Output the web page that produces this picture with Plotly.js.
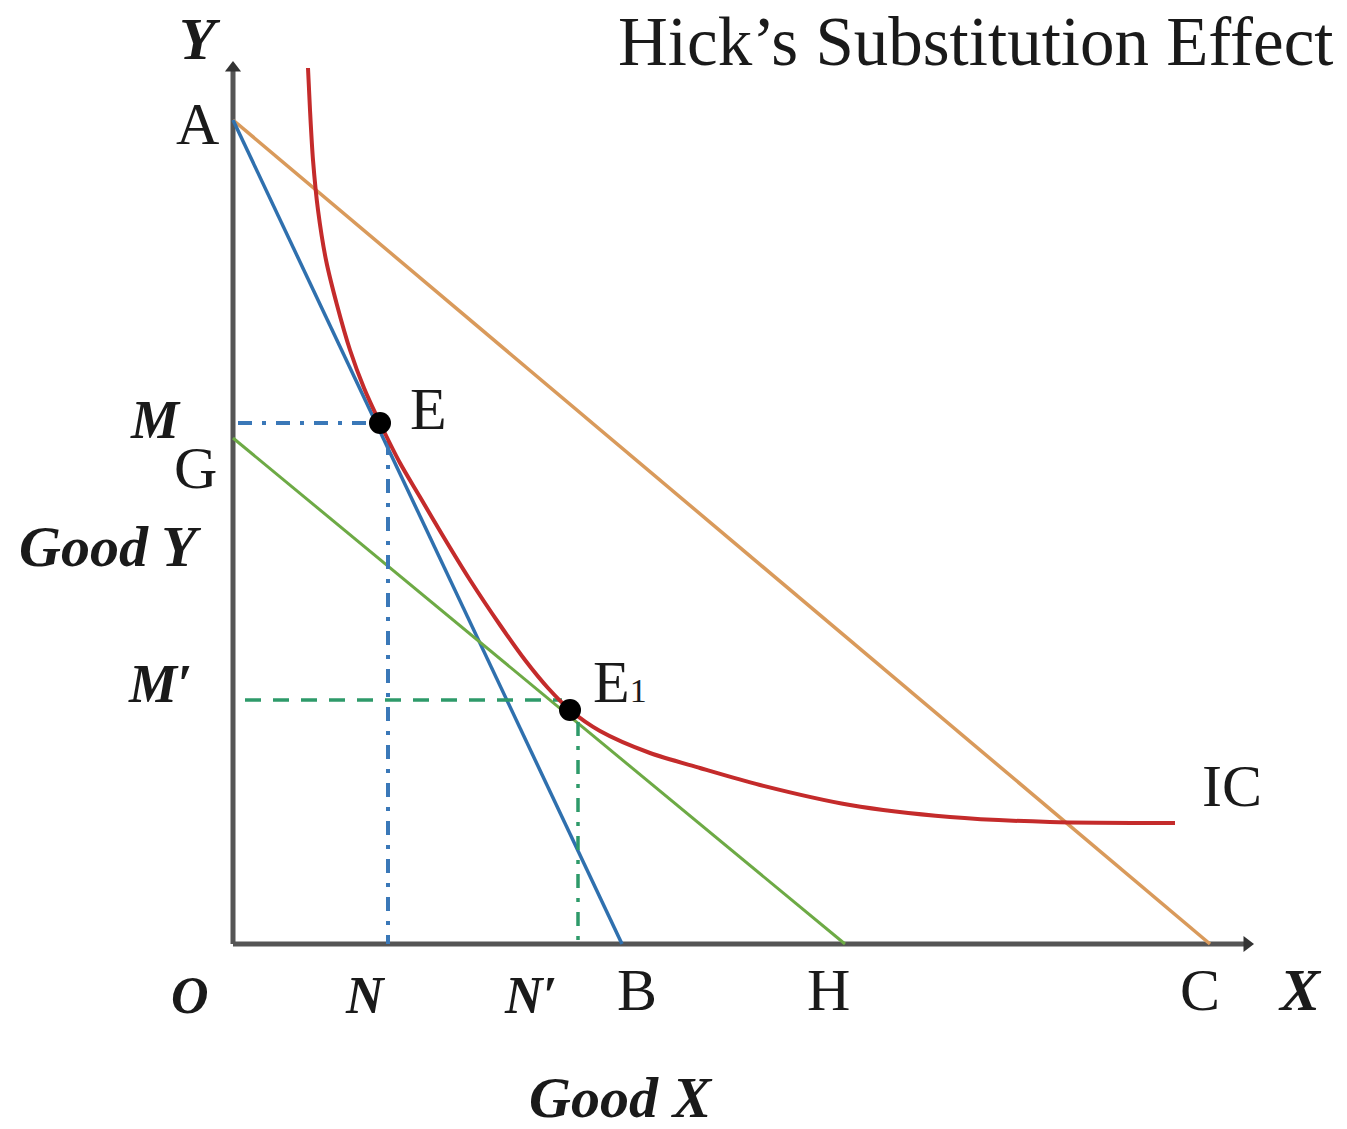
<!DOCTYPE html>
<html>
<head>
<meta charset="utf-8">
<script src="https://cdn.plot.ly/plotly-3.0.1.min.js"></script>
<style>html,body{margin:0;padding:0;background:#fff;}#chart{width:1347px;height:1129px;}</style>
</head>
<body>
<div id="chart"></div>
<script>
// ---- Data (units: Good X, Good Y) ----
const icX = [0.75,0.77,0.80,0.85,0.93,1.04,1.17,1.31,1.47,1.67,1.87,2.10,2.37,2.67,2.92,3.15,3.37,3.67,4.17,4.67,5.27,6.17,7.17,8.17,9.42];
const icY = [8.76,8.34,7.84,7.34,6.84,6.39,5.94,5.56,5.21,4.81,4.47,4.08,3.64,3.19,2.84,2.56,2.34,2.13,1.91,1.76,1.59,1.39,1.27,1.22,1.21];

const pointA = 8.24;   // Y intercept of both original budget lines
const pointB = 3.89;   // X intercept of line AB
const pointC = 9.77;   // X intercept of line AC
const pointG = 5.06;   // Y intercept of compensated line GH
const pointH = 6.12;   // X intercept of line GH

const eqE  = [1.47, 5.21];  // E
const eqE1 = [3.37, 2.34];  // E1
const levelM  = 5.21, levelMp = 2.44;   // M, M'
const posN    = 1.55, posNp   = 3.45;   // N, N'

const yAxisTop = 8.76, xAxisEnd = 10.14;

const lineWidthAxis = 5;

const traces = [
  // axes
  {x:[0,0], y:[0,yAxisTop], mode:'lines', line:{color:'#555555', width:lineWidthAxis}, hoverinfo:'skip'},
  {x:[0,xAxisEnd], y:[0,0], mode:'lines', line:{color:'#555555', width:lineWidthAxis}, hoverinfo:'skip'},
  {x:[0], y:[yAxisTop], mode:'markers', marker:{symbol:'triangle-up', size:14, color:'#333333'}, hoverinfo:'skip'},
  {x:[xAxisEnd], y:[0], mode:'markers', marker:{symbol:'triangle-right', size:14, color:'#333333'}, hoverinfo:'skip'},
  // budget lines
  {x:[0,pointC], y:[pointA,0], mode:'lines', line:{color:'#D99A5B', width:3.5}, hoverinfo:'skip'},
  {x:[0,pointB], y:[pointA,0], mode:'lines', line:{color:'#2F70AE', width:3.5}, hoverinfo:'skip'},
  {x:[0,pointH], y:[pointG,0], mode:'lines', line:{color:'#6DAA45', width:3}, hoverinfo:'skip'},
  // guide lines
  {x:[0.05,eqE[0]], y:[levelM,levelM], mode:'lines', line:{color:'#3A78B8', width:4, dash:'14px,10px,4px,10px'}, hoverinfo:'skip'},
  {x:[posN,posN], y:[eqE[1]-0.18,0], mode:'lines', line:{color:'#3A78B8', width:4, dash:'14px,10px,4px,10px'}, hoverinfo:'skip'},
  {x:[0.12,eqE1[0]-0.08], y:[levelMp,levelMp], mode:'lines', line:{color:'#2E9A6A', width:3.5, dash:'16px,12px'}, hoverinfo:'skip'},
  {x:[posNp,posNp], y:[eqE1[1]-0.12,0], mode:'lines', line:{color:'#2E9A6A', width:3.5, dash:'14px,10px,4px,10px'}, hoverinfo:'skip'},
  // indifference curve
  {x:icX, y:icY, mode:'lines', line:{color:'#C42B2B', width:4, shape:'spline', smoothing:0.8}, hoverinfo:'skip'},
  // equilibrium points
  {x:[eqE[0], eqE1[0]], y:[eqE[1], eqE1[1]], mode:'markers', marker:{color:'#000000', size:22}, hoverinfo:'skip'}
];

const serif = 'Liberation Serif, Times New Roman, serif';
function lab(x, y, text, size, opts) {
  return Object.assign({x:x, y:y, xref:'x', yref:'y', text:text, showarrow:false,
    xanchor:'center', yanchor:'middle', font:{family:serif, size:size, color:'#1a1a1a'}}, opts || {});
}
function scr(x, y, text, size) {
  return lab(x, y, '<b><i>' + text + '</i></b>', size);
}

const annotations = [
  lab(7.43, 9.02, 'Hick’s Substitution Effect', 69),
  scr(-0.33, 9.05, 'Y', 60),
  lab(-0.36, 8.20, 'A', 60),
  scr(-0.78, 5.24, 'M', 54),
  lab(-0.38, 4.76, 'G', 60),
  scr(-1.23, 3.98, 'Good Y', 58),
  scr(-0.73, 2.60, 'M′', 54),
  lab(1.95, 5.35, 'E', 60),
  lab(3.87, 2.62, 'E<span style="font-size:34px">1</span>', 60),
  lab(9.99, 1.58, 'IC', 60),
  scr(-0.43, -0.51, 'O', 52),
  scr(1.32, -0.51, 'N', 52),
  scr(2.97, -0.51, 'N′', 52),
  lab(4.04, -0.46, 'B', 60),
  lab(5.95, -0.46, 'H', 60),
  lab(9.67, -0.46, 'C', 60),
  scr(10.67, -0.46, 'X', 60),
  scr(3.87, -1.53, 'Good X', 58)
];

const layout = {
  width:1347, height:1129,
  margin:{l:0, r:0, t:0, b:0, pad:0},
  paper_bgcolor:'#ffffff', plot_bgcolor:'#ffffff',
  showlegend:false,
  xaxis:{range:[-2.33, 11.14], visible:false, fixedrange:true},
  yaxis:{range:[-1.85, 9.44], visible:false, fixedrange:true},
  annotations:annotations
};

Plotly.newPlot('chart', traces, layout, {displayModeBar:false, staticPlot:true});
</script>
</body>
</html>
